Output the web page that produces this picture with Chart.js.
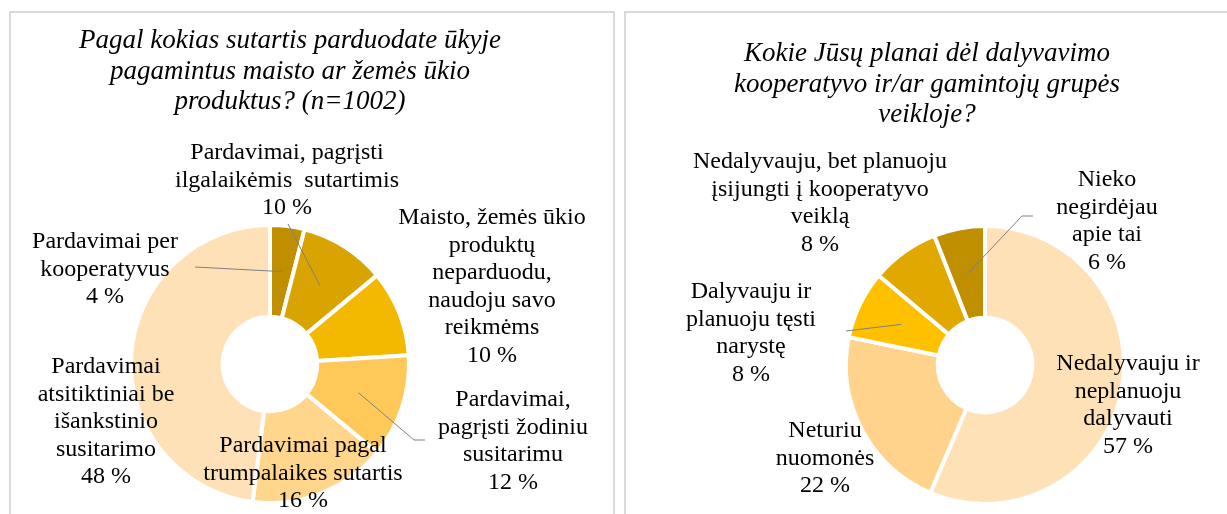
<!DOCTYPE html>
<html>
<head>
<meta charset="utf-8">
<script src="https://cdn.jsdelivr.net/npm/chart.js@4.4.1/dist/chart.umd.min.js"></script>
<style>
    html, body { margin: 0; padding: 0; background: #fff; }
    #page { position: relative; width: 1227px; height: 514px; overflow: hidden; }
    .box { position: absolute; top: 11px; border: 2px solid #d9d9d9; background: #fff; }
    #boxLeft { left: 9px; width: 602px; height: 520px; }
    #boxRight { left: 624px; width: 620px; height: 520px; }
    canvas { position: absolute; left: 0; top: 0; }
</style>
</head>
<body>
<div id="page">
    <div class="box" id="boxLeft"></div>
    <div class="box" id="boxRight"></div>
    <canvas id="salesChart" width="1227" height="514"></canvas>
    <canvas id="coopChart" width="1227" height="514"></canvas>
</div>
<script>
// --- left chart: pardavimo būdai
const salesTitle = ['Pagal kokias sutartis parduodate ūkyje', 'pagamintus maisto ar žemės ūkio', 'produktus? (n=1002)'];
const salesLabels = [
    ['Pardavimai per', 'kooperatyvus'],
    ['Pardavimai, pagrįsti', 'ilgalaikėmis  sutartimis'],
    ['Maisto, žemės ūkio', 'produktų', 'neparduodu,', 'naudoju savo', 'reikmėms'],
    ['Pardavimai,', 'pagrįsti žodiniu', 'susitarimu'],
    ['Pardavimai pagal', 'trumpalaikes sutartis'],
    ['Pardavimai', 'atsitiktiniai be', 'išankstinio', 'susitarimo']
];
const salesValues = [4, 10, 10, 12, 16, 48];
const salesColors = ['#bf8f00', '#daa400', '#f3b800', '#ffc95a', '#ffd68c', '#ffe1b8'];

// --- right chart: dalyvavimas kooperatyve
const coopTitle = ['Kokie Jūsų planai dėl dalyvavimo', 'kooperatyvo ir/ar gamintojų grupės', 'veikloje?'];
const coopLabels = [
    ['Nedalyvauju ir', 'neplanuoju', 'dalyvauti'],
    ['Neturiu', 'nuomonės'],
    ['Dalyvauju ir', 'planuoju tęsti', 'narystę'],
    ['Nedalyvauju, bet planuoju', 'įsijungti į kooperatyvo', 'veiklą'],
    ['Nieko', 'negirdėjau', 'apie tai']
];
const coopValues = [57, 22, 8, 8, 6];
const coopColors = ['#ffe1b8', '#ffd38b', '#ffc000', '#e1a800', '#bf8f00'];

const FONT = '"Liberation Serif", "Times New Roman", serif';

// where each label block sits (x centre, y of first line) and optional leader line
const salesLayout = {
    title: { x: 290, y: 41 },
    labels: [
        { x: 105, y: 242, leader: [[195, 267]] },
        { x: 287, y: 153, leader: [[288, 224]] },
        { x: 492, y: 218 },
        { x: 513, y: 400, leader: [[425, 440], [414, 440]] },
        { x: 303, y: 446 },
        { x: 106, y: 367 }
    ]
};
const coopLayout = {
    title: { x: 927, y: 54 },
    labels: [
        { x: 1128, y: 364 },
        { x: 825, y: 431 },
        { x: 751, y: 292, leader: [[846, 331]] },
        { x: 820, y: 162 },
        { x: 1107, y: 180, leader: [[1033, 216], [1022, 216]] }
    ]
};

const labelPlugin = {
    id: 'sideLabels',
    afterDatasetsDraw(chart) {
        const ctx = chart.ctx;
        const layout = chart.options.plugins.sideLabels;
        const meta = chart.getDatasetMeta(0);
        const values = chart.data.datasets[0].data;
        ctx.save();

        // title
        ctx.fillStyle = '#000';
        ctx.textAlign = 'center';
        ctx.textBaseline = 'middle';
        ctx.font = 'italic 27px ' + FONT;
        layout.titleLines.forEach((t, i) => ctx.fillText(t, layout.title.x, layout.title.y + i * 30.5));

        // leader lines
        ctx.strokeStyle = '#808080';
        ctx.lineWidth = 1;
        layout.labels.forEach((lab, i) => {
            if (!lab.leader) return;
            const arc = meta.data[i].getProps(['x', 'y', 'startAngle', 'endAngle', 'innerRadius', 'outerRadius'], true);
            const mid = (arc.startAngle + arc.endAngle) / 2;
            const r = (arc.innerRadius + arc.outerRadius) / 2;
            ctx.beginPath();
            ctx.moveTo(lab.leader[0][0], lab.leader[0][1]);
            lab.leader.slice(1).forEach(p => ctx.lineTo(p[0], p[1]));
            ctx.lineTo(arc.x + Math.cos(mid) * r, arc.y + Math.sin(mid) * r);
            ctx.stroke();
        });

        // category + value text
        ctx.font = '24px ' + FONT;
        layout.labels.forEach((lab, i) => {
            const lines = chart.data.labels[i].concat([values[i] + ' %']);
            lines.forEach((t, j) => ctx.fillText(t, lab.x, lab.y + j * 27.5));
        });
        ctx.restore();
    }
};

function drawDonut(id, labels, values, colors, title, layout, padding) {
    const ctx = document.getElementById(id).getContext('2d');
    return new Chart(ctx, {
        type: 'doughnut',
        data: {
            labels: labels,
            datasets: [{
                data: values,
                backgroundColor: colors,
                borderColor: '#ffffff',
                borderWidth: 4
            }]
        },
        options: {
            responsive: false,
            animation: false,
            cutout: '34%',
            layout: { padding: padding },
            plugins: {
                legend: { display: false },
                tooltip: { enabled: false },
                sideLabels: Object.assign({ titleLines: title }, layout)
            }
        },
        plugins: [labelPlugin]
    });
}

drawDonut('salesChart', salesLabels, salesValues, salesColors, salesTitle, salesLayout,
    { left: 129, right: 816, top: 223, bottom: 9 });
drawDonut('coopChart', coopLabels, coopValues, coopColors, coopTitle, coopLayout,
    { left: 844, right: 101, top: 224, bottom: 8 });
</script>
</body>
</html>
